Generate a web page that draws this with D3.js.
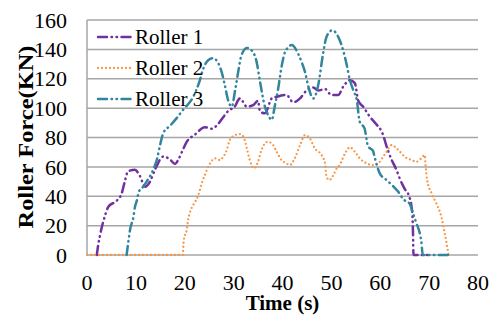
<!DOCTYPE html>
<html>
<head>
<meta charset="utf-8">
<script src="https://cdn.jsdelivr.net/npm/d3@7"></script>
<style>
  body { margin: 0; background: #fff; }
  svg { display: block; font-family: "Liberation Serif", "Times New Roman", serif; }
</style>
</head>
<body>
<svg id="chart" width="491" height="325"></svg>
<script>
// values: [time (s), force (KN)]
const roller1 = [
  [2, 0], [2.3, 7], [2.7, 14], [3.7, 27], [4.4, 33], [6.1, 37], [7.1, 42], [7.8, 51], [8.4, 57],
  [9.8, 58], [10.8, 54], [11.9, 46.5], [12.9, 50], [13.9, 58], [15.6, 67], [17, 65], [18, 62],
  [18.7, 65], [19.4, 70], [20.4, 77], [22.1, 82], [24.1, 87], [25.5, 86], [26.5, 88], [27.9, 94],
  [29.2, 99], [30, 100], [31.3, 106.6], [32.7, 101], [34, 102], [35, 105], [35.4, 97.5], [36.4, 96.5],
  [37.8, 106.6], [38.8, 107.7], [40.8, 109], [42.2, 104], [43.6, 106.6], [44.9, 112], [46.3, 114],
  [47.3, 112], [48.7, 113], [50, 109], [51.4, 109], [52.4, 114.5], [53.8, 119], [54.8, 117],
  [55.5, 105], [56.5, 101], [57.9, 94], [59.2, 89], [60.3, 84], [61.6, 71], [62.3, 65], [63.3, 58],
  [64, 52], [65, 45], [65.9, 40], [66.4, 33], [66.6, 26], [66.7, 15], [66.8, 0], [70, 0]
];
const roller2 = [
  [0, 0], [19.6, 0], [19.8, 10], [20.4, 17], [20.7, 24], [21.4, 32], [22.1, 36], [22.8, 41],
  [23.5, 49], [24.1, 54.4], [25.2, 62.4], [26.2, 65.8], [27.2, 64.6], [27.9, 67], [28.6, 71.4],
  [29.2, 78.2], [30.3, 81.6], [31.3, 82.3], [32, 80.5], [32.7, 72.6], [33.3, 64.6], [34.2, 59],
  [35, 63.5], [35.7, 71.4], [36.9, 77], [37.8, 76], [38.8, 70.3], [39.8, 64.6], [40.8, 62.4],
  [41.5, 61.2], [42.5, 65.8], [43.6, 74.8], [44.6, 81.6], [45.6, 79.4], [46.6, 72.6], [48, 68],
  [48.7, 62.4], [49, 53.3], [49.6, 51], [50.4, 54.4], [51.1, 59], [51.7, 61.2], [52.8, 69.2],
  [53.8, 73.3], [54.8, 70.3], [55.8, 65.8], [57.2, 62.4], [58.5, 61.2], [59.6, 62.4], [60.6, 66.9],
  [61.3, 70.3], [62.3, 74.8], [63.7, 71.4], [65, 66.9], [66.4, 64.6], [67.4, 63.5], [68.4, 65.8],
  [69.1, 68], [69.3, 60], [69.6, 51], [70.5, 42], [71.5, 35], [72.5, 26], [73.2, 14.7], [73.7, 5.6],
  [74, 0]
];
const roller3 = [
  [8.1, 0], [8.5, 10], [8.8, 17], [9.5, 26], [9.8, 32.6], [10.2, 37], [10.6, 43], [11.5, 46.5],
  [12.2, 50], [13.2, 55.6], [13.9, 61], [14.3, 65], [14.9, 74], [15.6, 83], [17, 88], [18.3, 93],
  [19.6, 98.6], [21.7, 107.5], [23.1, 119], [23.7, 126], [24.8, 132.6], [25.8, 134], [26.8, 131],
  [27.6, 124], [28.2, 115.6], [28.9, 105], [29.6, 101], [30.3, 112], [30.9, 124], [31.6, 136],
  [32.7, 141], [34, 138], [34.7, 131.5], [35.4, 118], [36.4, 101], [37.1, 95], [37.8, 92],
  [38.4, 101], [39.1, 113], [39.8, 128], [40.5, 138], [41.9, 143], [43.2, 137], [43.9, 131.5],
  [44.6, 124.7], [45.3, 114.5], [46.3, 106.6], [47.3, 115.6], [48.3, 137], [49, 148.5], [50.2, 153],
  [51.4, 148.5], [52.4, 139.5], [53.1, 130], [53.8, 119], [54.5, 112], [55.2, 105.4], [55.8, 90.7],
  [56.8, 86], [57.5, 74], [58.5, 71], [58.9, 66], [59.9, 55.6], [61.3, 51], [62.6, 47], [63.7, 43],
  [64.7, 38], [66, 35], [66.7, 28.4], [67.4, 21.6], [68.1, 14.7], [68.4, 9], [68.7, 0], [74, 0]
];

const seriesNames = ['Roller 1', 'Roller 2', 'Roller 3'];
const seriesColors = ['#7030A0', '#F79646', '#31859C'];
const xTicks = [0, 10, 20, 30, 40, 50, 60, 70, 80];
const yTicks = [0, 20, 40, 60, 80, 100, 120, 140, 160];

const svg = d3.select('#chart');
const plot = { left: 87, right: 478, top: 20, bottom: 255 };

const x = d3.scaleLinear().domain([0, 80]).range([plot.left, plot.right]);
const y = d3.scaleLinear().domain([0, 160]).range([plot.bottom, plot.top]);

// horizontal gridlines
svg.append('g')
  .selectAll('line')
  .data(yTicks)
  .join('line')
  .attr('x1', plot.left)
  .attr('x2', plot.right)
  .attr('y1', d => y(d))
  .attr('y2', d => y(d))
  .attr('stroke', '#a6a6a6')
  .attr('stroke-width', 1.5);

// left axis line
svg.append('line')
  .attr('x1', plot.left).attr('x2', plot.left)
  .attr('y1', plot.top).attr('y2', plot.bottom)
  .attr('stroke', '#a6a6a6')
  .attr('stroke-width', 1.5);

// tick labels
svg.append('g')
  .selectAll('text')
  .data(yTicks)
  .join('text')
  .attr('x', 67)
  .attr('y', d => y(d))
  .attr('dy', '0.35em')
  .attr('text-anchor', 'end')
  .attr('font-size', 22)
  .text(d => d);

svg.append('g')
  .selectAll('text')
  .data(xTicks)
  .join('text')
  .attr('x', d => x(d))
  .attr('y', 290)
  .attr('text-anchor', 'middle')
  .attr('font-size', 22)
  .text(d => d);

// axis titles
svg.append('text')
  .attr('x', (plot.left + plot.right) / 2)
  .attr('y', 310)
  .attr('text-anchor', 'middle')
  .attr('font-size', 21)
  .attr('font-weight', 'bold')
  .text('Time (s)');

svg.append('text')
  .attr('transform', 'translate(33,137) rotate(-90)')
  .attr('text-anchor', 'middle')
  .attr('font-size', 22)
  .attr('font-weight', 'bold')
  .attr('textLength', 183)
  .attr('lengthAdjust', 'spacingAndGlyphs')
  .text('Roller Force(KN)');

// series
const dashes = ['9 4.5 0.5 4.5 0.5 4.5', '0 4', '9 4.5 0.5 4.5 0.5 4.5'];
const widths = [2.5, 2.3, 2.5];

const line = d3.line()
  .x(d => x(d[0]))
  .y(d => y(d[1]))
  .curve(d3.curveMonotoneX);

[roller1, roller2, roller3].forEach((data, i) => {
  svg.append('path')
    .datum(data)
    .attr('d', line)
    .attr('fill', 'none')
    .attr('stroke', seriesColors[i])
    .attr('stroke-width', widths[i])
    .attr('stroke-dasharray', dashes[i])
    .attr('stroke-linecap', 'round');
});

// legend
const legend = svg.append('g')
  .selectAll('g')
  .data(seriesNames)
  .join('g')
  .attr('transform', (d, i) => `translate(0, ${37 + i * 31})`);

legend.append('line')
  .attr('x1', 98)
  .attr('x2', 133)
  .attr('stroke', (d, i) => seriesColors[i])
  .attr('stroke-width', (d, i) => widths[i])
  .attr('stroke-dasharray', (d, i) => dashes[i])
  .attr('stroke-linecap', 'round');

legend.append('text')
  .attr('x', 135)
  .attr('dy', '0.35em')
  .attr('font-size', 21)
  .text(d => d);
</script>
</body>
</html>
